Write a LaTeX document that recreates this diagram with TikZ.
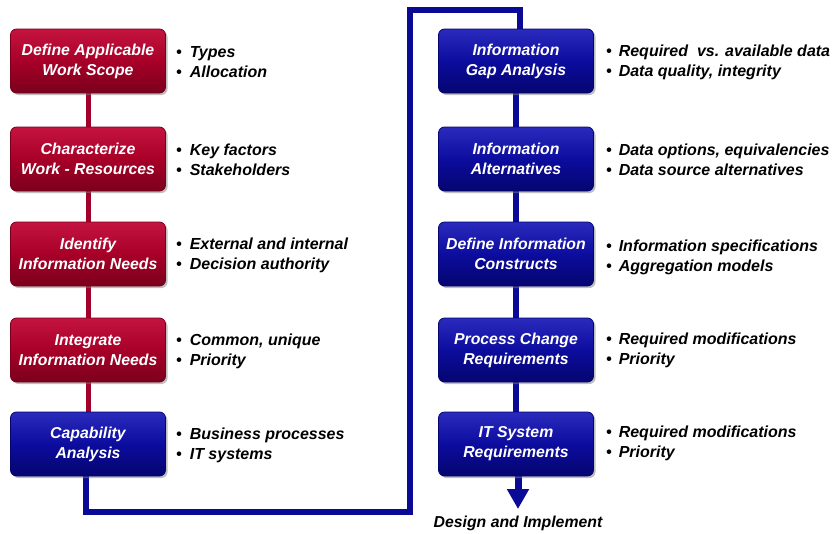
\documentclass[tikz,border=0pt]{standalone}
\usepackage{fontspec}
\setmainfont{Liberation Sans}
\usetikzlibrary{shadows,arrows.meta,backgrounds}
\definecolor{boxred}{HTML}{A80028}
\definecolor{boxredtop}{HTML}{C4143F}
\definecolor{boxreddark}{HTML}{7A001C}
\definecolor{boxblue}{HTML}{0C0C9E}
\definecolor{boxbluetop}{HTML}{2A2ABC}
\definecolor{boxbluedark}{HTML}{050570}
\definecolor{linered}{HTML}{A0002A}
\definecolor{lineblue}{HTML}{0A0A96}
\begin{document}
\begin{tikzpicture}[x=1pt,y=-1pt,
  box/.style={rectangle, rounded corners=6pt, minimum width=155pt, minimum height=64pt,
    align=center, text=white, font=\fontsize{15.8}{20}\selectfont\bfseries\itshape,
    drop shadow={shadow xshift=2pt,shadow yshift=-2pt,opacity=0.5}},
  redbox/.style={box, top color=boxredtop, bottom color=boxreddark, middle color=boxred, draw=boxreddark, line width=0.8pt},
  bluebox/.style={box, top color=boxbluetop, bottom color=boxbluedark, middle color=boxblue, draw=boxbluedark, line width=0.8pt},
  bullets/.style={anchor=west, align=left, inner sep=0pt, font=\fontsize{16}{20}\selectfont\bfseries\itshape},
  redline/.style={draw=linered, line width=5pt},
  blueline/.style={draw=lineblue, line width=6pt}]
\useasboundingbox (0,0) rectangle (835,533);

% left column
\node[redbox] (l1) at (88,61) {Define Applicable\\Work Scope};
\node[redbox] (l2) at (88,159) {Characterize\\Work - Resources};
\node[redbox] (l3) at (88,254) {Identify\\Information Needs};
\node[redbox] (l4) at (88,350) {Integrate\\Information Needs};
\node[bluebox] (l5) at (88,444) {Capability\\Analysis};

% right column
\node[bluebox] (r1) at (516,61) {Information\\Gap Analysis};
\node[bluebox] (r2) at (516,159) {Information\\Alternatives};
\node[bluebox] (r3) at (516,254) {Define Information\\Constructs};
\node[bluebox] (r4) at (516,350) {Process Change\\Requirements};
\node[bluebox] (r5) at (516,444) {IT System\\Requirements};

% bullets left
\node[bullets] (b1) at (176,62) {\textbullet\hspace{8pt}Types\\\textbullet\hspace{8pt}Allocation};
\node[bullets] (b2) at (176,160) {\textbullet\hspace{8pt}Key factors\\\textbullet\hspace{8pt}Stakeholders};
\node[bullets] (b3) at (176,255) {\textbullet\hspace{8pt}External and internal\\\textbullet\hspace{8pt}Decision authority};
\node[bullets] (b4) at (176,351) {\textbullet\hspace{8pt}Common, unique\\\textbullet\hspace{8pt}Priority};
\node[bullets] (b5) at (176,445) {\textbullet\hspace{8pt}Business processes\\\textbullet\hspace{8pt}IT systems};

% bullets right
\node[bullets] (c1) at (606,62) {\textbullet\hspace{7pt}Required\ \ vs. available data\\\textbullet\hspace{7pt}Data quality, integrity};
\node[bullets] (c2) at (606,160) {\textbullet\hspace{7pt}Data options, equivalencies\\\textbullet\hspace{7pt}Data source alternatives};
\node[bullets] (c3) at (606,257) {\textbullet\hspace{7pt}Information specifications\\\textbullet\hspace{7pt}Aggregation models};
\node[bullets] (c4) at (606,350) {\textbullet\hspace{7pt}Required modifications\\\textbullet\hspace{7pt}Priority};
\node[bullets] (c5) at (606,443) {\textbullet\hspace{7pt}Required modifications\\\textbullet\hspace{7pt}Priority};

\node[font=\fontsize{15.8}{18}\selectfont\bfseries\itshape] (out) at (518,523) {Design and Implement};
\coordinate (tip) at (518,509);
\coordinate (c1a) at (86,512);
\coordinate (c1b) at (410,512);
\coordinate (c1c) at (410,10);
\coordinate (c1d) at (520,10);

\begin{scope}[on background layer]
\draw[redline] (l1) -- (l2);
\draw[redline] (l2) -- (l3);
\draw[redline] (l3) -- (l4);
\draw[redline] (l4) -- (l5);
\draw[blueline] (l5.south -| c1a) -- (c1a) -- (c1b) -- (c1c) -- (c1d) -- (r1.north -| c1d);
\draw[blueline] (r1) -- (r2);
\draw[blueline] (r2) -- (r3);
\draw[blueline] (r3) -- (r4);
\draw[blueline] (r4) -- (r5);
\draw[draw=lineblue, line width=7pt, -{Triangle[width=21pt,length=20pt]}] (r5.south -| tip) -- (tip);
\end{scope}
\end{tikzpicture}
\end{document}
